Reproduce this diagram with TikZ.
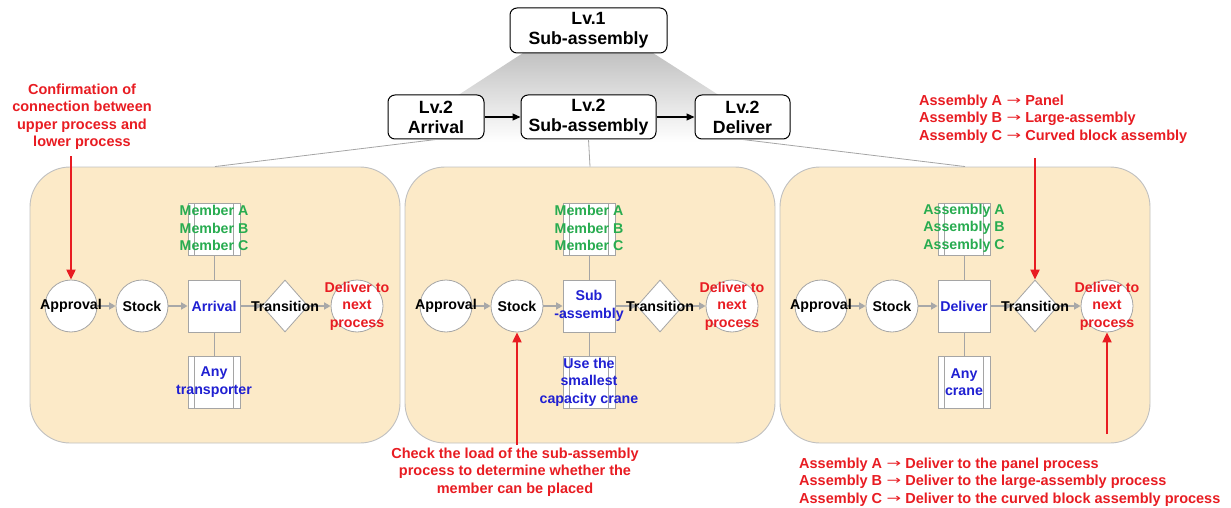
\documentclass[tikz,border=0pt]{standalone}
\usepackage{fontspec}
\usepackage{graphicx}
\setmainfont{Liberation Sans}
\newfontfamily\arrowfont{DejaVu Sans}
\usetikzlibrary{shapes.geometric,arrows.meta}

\definecolor{panelfill}{RGB}{252,234,200}
\definecolor{panelline}{RGB}{192,192,192}
\definecolor{shapeline}{RGB}{165,165,165}
\definecolor{flowgray}{RGB}{168,168,168}
\definecolor{txtgreen}{RGB}{40,172,80}
\definecolor{txtblue}{RGB}{32,32,210}
\definecolor{txtred}{RGB}{232,28,34}

% long thin arrow used inside the remarks
\newcommand\toarrow{\hspace{4.5pt}{\arrowfont\mdseries\fontsize{12}{12}\selectfont
  \raisebox{0.8pt}{\scalebox{1.45}[1]{→}}}\hspace{4pt}}

\tikzset{
  lvbox/.style={draw=black, line width=1pt, rounded corners=7pt, fill=white,
    align=center, minimum height=44pt, inner sep=0pt,
    font=\fontsize{17.7}{20}\selectfont\bfseries},
  panel/.style={draw=panelline, line width=0.9pt, fill=panelfill,
    rounded corners=40pt, minimum width=370pt, minimum height=276pt, inner sep=0pt},
  circ/.style={circle, draw=shapeline, line width=0.8pt, fill=white,
    minimum size=52pt, inner sep=0pt},
  sq/.style={rectangle, draw=shapeline, line width=0.8pt, fill=white,
    minimum size=52pt, inner sep=0pt},
  dia/.style={diamond, draw=shapeline, line width=0.8pt, fill=white,
    minimum width=46pt, minimum height=52pt, inner sep=0pt},
  predef/.style={sq, path picture={
    \draw[shapeline, line width=0.8pt]
      ([xshift=6.5pt]path picture bounding box.north west) --
      ([xshift=6.5pt]path picture bounding box.south west)
      ([xshift=-6.5pt]path picture bounding box.north east) --
      ([xshift=-6.5pt]path picture bounding box.south east);}},
  lbl/.style={align=center, inner sep=0pt, text=black},
  flow/.style={draw=flowgray, line width=1.6pt,
    -{Triangle[length=6.5pt,width=7pt]}},
  link/.style={draw=shapeline, line width=0.8pt},
  tree/.style={draw=shapeline, line width=0.8pt},
  lvarrow/.style={draw=black, line width=1.1pt,
    -{Triangle[length=8pt,width=7pt]}},
  note/.style={text=txtred, inner sep=0pt,
    font=\fontsize{14.5}{17.5}\selectfont\bfseries},
  callout/.style={draw=txtred, line width=2pt,
    -{Triangle[length=10pt,width=9pt]}},
}

% One process panel: #1 id, #2 horizontal offset, #3 main step,
% #4 items above, #5 equipment below
\newcommand\drawpanel[5]{%
  \begin{scope}[xshift=#2pt]
    \node[panel] (p#1) at (215,305) {};
    \node[circ] (ap#1) at (71,306) {};
    \node[circ] (st#1) at (142,306) {};
    \node[sq] (mb#1) at (214,306) {};
    \node[dia] (tr#1) at (285,306) {};
    \node[circ] (dl#1) at (357,306) {};
    \node[predef] (up#1) at (214,229) {};
    \node[predef] (dn#1) at (214,382) {};
    \draw[link] (up#1.south) -- (mb#1.north);
    \draw[link] (mb#1.south) -- (dn#1.north);
    \draw[flow] (ap#1) -- (st#1);
    \draw[flow] (st#1) -- (mb#1);
    \draw[flow] (mb#1) -- (tr#1);
    \draw[flow] (tr#1) -- (dl#1);
    \node[lbl] (apt#1) at (ap#1) {Approval};
    \node[lbl] (stt#1) at (st#1) {Stock};
    \node[lbl, text=txtblue] (mbt#1) at (mb#1) {#3};
    \node[lbl] (trt#1) at (tr#1) {Transition};
    \node[lbl, text=txtred] (dlt#1) at (dl#1) {Deliver to\\next\\process};
    \node[lbl, text=txtgreen] (upt#1) at ([yshift=1pt]up#1) {#4};
    \node[lbl, text=txtblue] (dnt#1) at (dn#1) {#5};
  \end{scope}}

\begin{document}
\begin{tikzpicture}[x=1pt, y=-1pt, font=\fontsize{14.2}{17.5}\selectfont\bfseries]
  \useasboundingbox (0,0) rectangle (1231,508);

  % fan from the level-1 step down to the level-2 steps
  \shade[top color=black!24, bottom color=white]
    (523,53) -- (653,53) -- (792,142) -- (386,142) -- cycle;

  % hierarchy
  \node[lvbox, minimum width=157pt, minimum height=45pt] (l1) at (588.5,30.5) {Lv.1\\Sub-assembly};
  \node[lvbox, minimum width=96pt] (l2a) at (436,117) {Lv.2\\Arrival};
  \node[lvbox, minimum width=135pt] (l2s) at (588.5,117) {Lv.2\\Sub-assembly};
  \node[lvbox, minimum width=95pt] (l2d) at (742.5,117) {Lv.2\\Deliver};
  \draw[lvarrow] (l2a) -- (l2s);
  \draw[lvarrow] (l2s) -- (l2d);

  % process panels
  \drawpanel{1}{0}{Arrival}{Member A\\Member B\\Member C}{Any\\transporter}
  \drawpanel{2}{375}{Sub\\-assembly}{Member A\\Member B\\Member C}{Use the\\smallest\\capacity crane}
  \drawpanel{3}{750}{Deliver}{Assembly A\\Assembly B\\Assembly C}{Any\\crane}

  % links from level-2 steps to their panels
  \draw[tree] (l2a.south) -- (p1.north);
  \draw[tree] (l2s.south) -- (p2.north);
  \draw[tree] (l2d.south) -- (p3.north);

  % remarks
  \node[note, align=center] (n1) at (82,117)
    {Confirmation of\\connection between\\upper process and\\lower process};
  \node[note, align=center] (n2) at (515,472)
    {Check the load of the sub-assembly\\process to determine whether the\\member can be placed};
  \node[note, align=left, anchor=west] (n3) at (919,119)
    {Assembly A\toarrow Panel\\Assembly B\toarrow Large-assembly\\Assembly C\toarrow Curved block assembly};
  \node[note, align=left, anchor=west] (n4) at (799,482)
    {Assembly A\toarrow Deliver to the panel process\\Assembly B\toarrow Deliver to the large-assembly process\\Assembly C\toarrow Deliver to the curved block assembly process};

  \coordinate (c1) at (71,156);
  \coordinate (c2) at (517,445);
  \coordinate (c3) at (1035,158);
  \coordinate (c4) at (1107,434);
  \draw[callout] (c1) -- (ap1.north);
  \draw[callout] (c2) -- (st2.south);
  \draw[callout] (c3) -- (tr3.north);
  \draw[callout] (c4) -- (dl3.south);
\end{tikzpicture}
\end{document}
